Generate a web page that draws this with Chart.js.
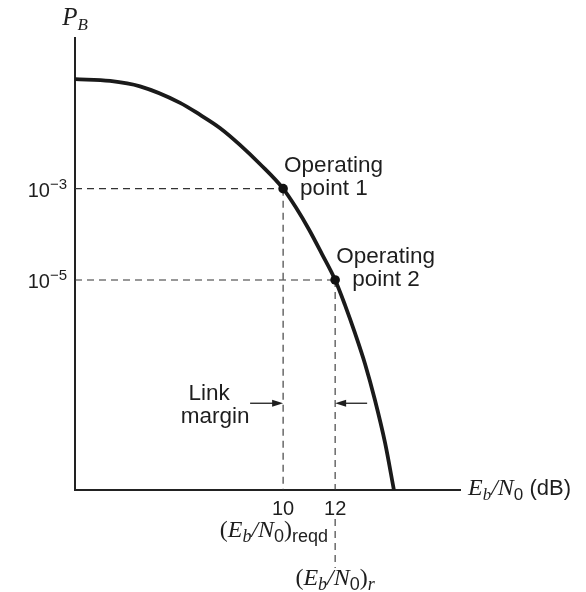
<!DOCTYPE html>
<html>
<head>
<meta charset="utf-8">
<script src="https://cdn.jsdelivr.net/npm/chart.js@4"></script>
<style>
  html, body { margin: 0; padding: 0; background: #ffffff; }
  canvas { display: block; }
</style>
</head>
<body>
<canvas id="c" width="586" height="592"></canvas>
<script>
// ---- data (Eb/N0 in dB, P_B as log10 exponent; schematic curve) ----
const curveEbN0 = [2.0, 3.35, 4.5, 6.04, 6.8, 7.57, 8.34, 9.11, 10, 10.5, 11.0, 11.5, 12, 12.38, 12.76, 13.15, 13.53, 13.92, 14.26];
const curveLogPB = [-0.6, -0.64, -0.76, -1.12, -1.38, -1.67, -2.04, -2.46, -3, -3.42, -3.9, -4.44, -5, -5.55, -6.16, -6.84, -7.63, -8.57, -9.6];
const operatingEbN0 = [10, 12];
const operatingLogPB = [-3, -5];
const operatingNames = ['1', '2'];
const xTickValues = [10, 12];
const yTickExponents = [-3, -5];
const xRange = [2, 16.8];
const yRange = [-9.6, 0.3];
const linkMarginLevel = -7.7;

const SANS = '"Liberation Sans", Arial, sans-serif';
const SERIF = '"Liberation Serif", "Times New Roman", serif';
const INK = '#1e1e1e';

function runsWidth(ctx, runs) {
  let w = 0;
  for (const r of runs) { ctx.font = r.font; w += ctx.measureText(r.t).width; }
  return w;
}
function drawRuns(ctx, runs, x, y, align) {
  const w = runsWidth(ctx, runs);
  let cx = align === 'right' ? x - w : align === 'center' ? x - w / 2 : x;
  ctx.textAlign = 'left';
  ctx.textBaseline = 'alphabetic';
  for (const r of runs) {
    ctx.font = r.font;
    ctx.fillText(r.t, cx, y + (r.dy || 0));
    cx += ctx.measureText(r.t).width;
  }
}
function ebn0Runs(big, small) {
  return [
    { t: '(', font: `${big}px ${SERIF}` },
    { t: 'E', font: `italic ${big}px ${SERIF}` },
    { t: 'b', font: `italic ${small}px ${SERIF}`, dy: 5 },
    { t: '/', font: `italic ${big}px ${SERIF}` },
    { t: 'N', font: `italic ${big}px ${SERIF}` },
    { t: '0', font: `${small}px ${SANS}`, dy: 5 },
    { t: ')', font: `${big}px ${SERIF}` }
  ];
}
function arrow(ctx, x1, y, x2) {
  const dir = Math.sign(x2 - x1);
  ctx.beginPath();
  ctx.moveTo(x1, y);
  ctx.lineTo(x2 - dir * 8, y);
  ctx.lineWidth = 1.3;
  ctx.strokeStyle = INK;
  ctx.stroke();
  ctx.beginPath();
  ctx.moveTo(x2, y);
  ctx.lineTo(x2 - dir * 11, y - 3.5);
  ctx.lineTo(x2 - dir * 11, y + 3.5);
  ctx.closePath();
  ctx.fillStyle = INK;
  ctx.fill();
}

const annotations = {
  id: 'annotations',
  beforeDraw(chart) {
    const ctx = chart.ctx;
    ctx.save();
    ctx.fillStyle = '#ffffff';
    ctx.fillRect(0, 0, chart.width, chart.height);
    ctx.restore();
  },
  afterDraw(chart) {
    const ctx = chart.ctx;
    const xs = chart.scales.x, ys = chart.scales.y;
    const area = chart.chartArea;
    ctx.save();
    ctx.fillStyle = INK;

    // y axis title P_B
    drawRuns(ctx, [
      { t: 'P', font: `italic 25px ${SERIF}` },
      { t: 'B', font: `italic 17px ${SERIF}`, dy: 5 }
    ], area.left, area.top - 13, 'center');

    // y tick labels 10^-3, 10^-5
    for (const e of yTickExponents) {
      const py = ys.getPixelForValue(e);
      drawRuns(ctx, [
        { t: '10', font: `20px ${SANS}` },
        { t: '\u2212' + Math.abs(e), font: `15px ${SANS}`, dy: -8 }
      ], area.left - 8, py + 8, 'right');
    }

    // x tick labels
    ctx.font = `20px ${SANS}`;
    ctx.textAlign = 'center';
    for (const v of xTickValues) {
      ctx.fillText(String(v), xs.getPixelForValue(v), area.bottom + 25);
    }

    // x axis title
    drawRuns(ctx, [
      { t: 'E', font: `italic 24px ${SERIF}` },
      { t: 'b', font: `italic 17px ${SERIF}`, dy: 5 },
      { t: '/', font: `italic 24px ${SERIF}` },
      { t: 'N', font: `italic 24px ${SERIF}` },
      { t: '0', font: `17px ${SANS}`, dy: 5 },
      { t: ' (dB)', font: `22px ${SANS}` }
    ], area.right + 8, area.bottom + 5, 'left');

    const x10 = xs.getPixelForValue(operatingEbN0[0]);
    const x12 = xs.getPixelForValue(operatingEbN0[1]);

    // (Eb/N0)reqd
    drawRuns(ctx, ebn0Runs(24, 18).concat([{ t: 'reqd', font: `18px ${SANS}`, dy: 5 }]),
      x12 - 7, area.bottom + 47, 'right');

    // dashed extension below axis at 12
    ctx.save();
    ctx.setLineDash([7, 5]);
    ctx.lineWidth = 1.1;
    ctx.strokeStyle = '#333';
    ctx.beginPath();
    ctx.moveTo(x12, area.bottom + 29);
    ctx.lineTo(x12, area.bottom + 78);
    ctx.stroke();
    ctx.restore();

    // (Eb/N0)_r
    drawRuns(ctx, ebn0Runs(24, 18).concat([{ t: 'r', font: `italic 18px ${SERIF}`, dy: 5 }]),
      x12, area.bottom + 95, 'center');

    // Operating point labels
    ctx.fillStyle = INK;
    for (let i = 0; i < operatingEbN0.length; i++) {
      const px = xs.getPixelForValue(operatingEbN0[i]);
      const py = ys.getPixelForValue(operatingLogPB[i]);
      ctx.font = `22.5px ${SANS}`;
      ctx.textAlign = 'left';
      ctx.fillText('Operating', px + 1, py - 17);
      ctx.fillText('point ' + operatingNames[i], px + 17, py + 6);
    }

    // Link margin
    const ay = ys.getPixelForValue(linkMarginLevel);
    ctx.font = `22.5px ${SANS}`;
    ctx.textAlign = 'center';
    ctx.fillText('Link', x10 - 74, ay - 3);
    ctx.fillText('margin', x10 - 68, ay + 20);
    arrow(ctx, x10 - 33, ay, x10);
    arrow(ctx, x12 + 32, ay, x12);

    ctx.restore();
  }
};

const dash = { borderDash: [7, 5], borderWidth: 1.1, borderColor: '#333', pointRadius: 0, fill: false, order: 3 };
const guides = [];
for (let i = 0; i < operatingEbN0.length; i++) {
  guides.push(Object.assign({ data: [{ x: xRange[0], y: operatingLogPB[i] }, { x: operatingEbN0[i], y: operatingLogPB[i] }] }, dash));
  guides.push(Object.assign({ data: [{ x: operatingEbN0[i], y: operatingLogPB[i] }, { x: operatingEbN0[i], y: yRange[0] }] }, dash));
}

new Chart(document.getElementById('c'), {
  type: 'line',
  data: {
    datasets: [
      {
        data: curveEbN0.map((x, i) => ({ x, y: curveLogPB[i] })),
        borderColor: '#1a1a1a',
        borderWidth: 3.8,
        pointRadius: 0,
        cubicInterpolationMode: 'monotone',
        fill: false,
        order: 1
      },
      {
        type: 'scatter',
        data: operatingEbN0.map((x, i) => ({ x, y: operatingLogPB[i] })),
        pointRadius: 4.8,
        pointBackgroundColor: '#111',
        pointBorderWidth: 0,
        order: 0
      },
      ...guides
    ]
  },
  options: {
    responsive: false,
    animation: false,
    devicePixelRatio: 1,
    layout: { padding: { left: 75, top: 38, right: 126, bottom: 102 } },
    plugins: { legend: { display: false }, tooltip: { enabled: false } },
    scales: {
      x: {
        type: 'linear', min: xRange[0], max: xRange[1],
        grid: { display: false, drawTicks: false },
        ticks: { display: false },
        border: { display: true, color: '#222', width: 2 }
      },
      y: {
        type: 'linear', min: yRange[0], max: yRange[1],
        grid: { display: false, drawTicks: false },
        ticks: { display: false },
        border: { display: true, color: '#222', width: 2 }
      }
    }
  },
  plugins: [annotations]
});
</script>
</body>
</html>
